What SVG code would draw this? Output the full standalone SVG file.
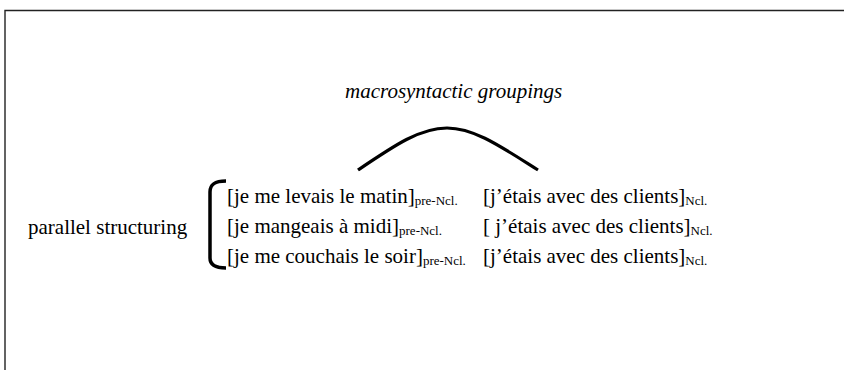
<svg xmlns="http://www.w3.org/2000/svg" width="844" height="370" viewBox="0 0 844 370">
<style>
.t{font-family:'Liberation Serif','Times New Roman',Times,serif;font-size:21px;fill:#000}
.it{font-style:italic}
.sub{font-size:13px}
.ln{fill:none;stroke:#000;stroke-linecap:butt}
</style>
<rect width="844" height="370" fill="#fff"/>
<path d="M5,370 V10.5 H844" fill="none" stroke="#222" stroke-width="1.4"/>
<g id="groupings">
<text class="t it" x="345" y="98">macrosyntactic groupings</text>
</g>
<g id="parallel">
<text class="t" x="28" y="234">parallel structuring</text>
</g>
<g id="rows">
<text class="t" x="227" y="203">[je me levais le matin]<tspan class="sub" dy="2">pre-Ncl.</tspan></text>
<text class="t" x="227" y="233">[je mangeais à midi]<tspan class="sub" dy="2">pre-Ncl.</tspan></text>
<text class="t" x="227" y="263">[je me couchais le soir]<tspan class="sub" dy="2">pre-Ncl.</tspan></text>
<text class="t" x="483" y="203">[j’étais avec des clients]<tspan class="sub" dy="2">Ncl.</tspan></text>
<text class="t" x="483" y="233">[ j’étais avec des clients]<tspan class="sub" dy="2">Ncl.</tspan></text>
<text class="t" x="483" y="263">[j’étais avec des clients]<tspan class="sub" dy="2">Ncl.</tspan></text>
</g>
<g id="connectors">
<path class="ln" stroke-width="3.2" d="M358,170 C395,145 420,128 447,128 C474,128 500,146 538,170"/>
<path class="ln" stroke-width="3.5" d="M226,181 C215,181 210,184 210,192 V258 C210,265 215,268 226,268"/>
</g>
</svg>
